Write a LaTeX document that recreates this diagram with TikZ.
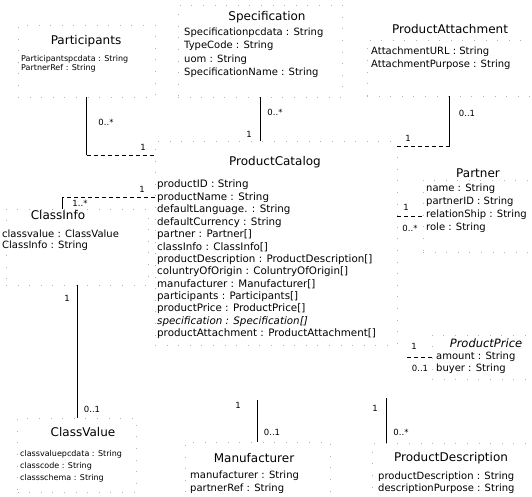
\documentclass[tikz,border=0pt]{standalone}
\usepackage{fontspec}
\setmainfont{DejaVu Sans}
\usetikzlibrary{positioning}
\tikzset{
  classbox/.style={draw=black!30, dash pattern=on 0.6pt off 11pt, rectangle, inner sep=0pt},
  classname/.style={font=\fontsize{12}{14}\selectfont, inner sep=0pt},
  attr/.style={font=\fontsize{10}{12}\selectfont, anchor=west, inner sep=0pt},
  catattr/.style={attr, font=\fontsize{10.3}{12}\selectfont},
  smallattr/.style={font=\fontsize{8}{9}\selectfont, anchor=west, inner sep=0pt},
  mult/.style={font=\fontsize{8.5}{10}\selectfont, inner sep=0pt},
  assoc/.style={line width=0.9pt},
  link/.style={line width=0.8pt, dash pattern=on 4pt off 3pt},
}

\begin{document}
\begin{tikzpicture}[x=1pt,y=-1pt]
\useasboundingbox (0,0) rectangle (532,497);
% class boxes
\node[classbox, minimum width=137pt, minimum height=72pt] (partBox) at (86.5,61) {};
\node[classbox, minimum width=164pt, minimum height=92pt] (specBox) at (260,51) {};
\node[classbox, minimum width=165pt, minimum height=56pt] (paBox) at (449.5,68) {};
\node[classbox, minimum width=242pt, minimum height=204pt] (catBox) at (276,243) {};
\node[classbox, minimum width=109pt, minimum height=72pt] (ptBox) at (477.5,216) {};
\node[classbox, minimum width=142pt, minimum height=76pt] (ciBox) at (77,247) {};
\node[classbox, minimum width=100pt, minimum height=44pt] (ppBox) at (482,357) {};
\node[classbox, minimum width=119pt, minimum height=74pt] (cvBox) at (77,455) {};
\node[classbox, minimum width=145pt, minimum height=55pt] (mfBox) at (257.5,469.5) {};
\node[classbox, minimum width=160pt, minimum height=54pt] (pdBox) at (452,470) {};

% Participants
\node[classname] (partTitle) at (86,41) {Participants};
\node[smallattr] (partAttr1) at (21,59) {Participantspcdata : String};
\node[smallattr] (partAttr2) at (21,68) {PartnerRef : String};

% Specification
\node[classname] (specTitle) at (267,17) {Specification};
\node[attr] (specAttr1) at (184,33) {Specificationpcdata : String};
\node[attr] (specAttr2) at (184,46) {TypeCode : String};
\node[attr] (specAttr3) at (184,60) {uom : String};
\node[attr] (specAttr4) at (184,73) {SpecificationName : String};

% ProductAttachment
\node[classname] (paTitle) at (450,29) {ProductAttachment};
\node[attr] (paAttr1) at (371,52) {AttachmentURL : String};
\node[attr] (paAttr2) at (371,65) {AttachmentPurpose : String};

% ProductCatalog
\node[classname] (catTitle) at (275,162) {ProductCatalog};
\foreach \txt [count=\i from 0] in {productID : String, productName : String,
    defaultLanguage. : String, defaultCurrency : String, partner : Partner[],
    classInfo : ClassInfo[], productDescription : ProductDescription[],
    coluntryOfOrigin : ColuntryOfOrigin[], manufacturer : Manufacturer[],
    participants : Participants[], productPrice : ProductPrice[],
    {\textit{specification : Specification[]}},
    productAttachment : ProductAttachment[]}
  \node[catattr] (catAttr\i) at (157,185+12.4*\i) {\txt};

% Partner
\node[classname] (ptTitle) at (478,173) {Partner};
\node[attr] (ptAttr1) at (426,189) {name : String};
\node[attr] (ptAttr2) at (426,202) {partnerID : String};
\node[attr] (ptAttr3) at (426,215) {relationShip : String};
\node[attr] (ptAttr4) at (426,228) {role : String};

% ClassInfo
\node[classname] (ciTitle) at (58,215) {ClassInfo};
\node[attr] (ciAttr1) at (2,234) {classvalue : ClassValue};
\node[attr] (ciAttr2) at (2,246) {ClassInfo : String};

% ProductPrice
\node[classname, font=\fontsize{11.5}{14}\selectfont\itshape] (ppTitle) at (486,343) {ProductPrice};
\node[attr] (ppAttr1) at (436,357) {amount : String};
\node[attr] (ppAttr2) at (436,369) {buyer : String};

% ClassValue
\node[classname] (cvTitle) at (83,432) {ClassValue};
\node[smallattr] (cvAttr1) at (20,454) {classvaluepcdata : String};
\node[smallattr] (cvAttr2) at (20,466) {classcode : String};
\node[smallattr] (cvAttr3) at (20,478) {classschema : String};

% Manufacturer
\node[classname] (mfTitle) at (254,458) {Manufacturer};
\node[attr] (mfAttr1) at (190,476) {manufacturer : String};
\node[attr] (mfAttr2) at (190,489) {partnerRef : String};

% ProductDescription
\node[classname] (pdTitle) at (451,458) {ProductDescription};
\node[attr] (pdAttr1) at (378,477) {productDescription : String};
\node[attr] (pdAttr2) at (378,489) {descriptionPurpose : String};

% associations
\coordinate (partCorner) at (86.5,155);
\draw[assoc] (partBox.south) -- (partCorner);
\draw[link] (partCorner) -- (partCorner -| catBox.west);
\draw[assoc] (specBox.south) -- (specBox.south |- catBox.north);
\coordinate (paCorner) at (449.5,146);
\draw[assoc] (paBox.south) -- (paCorner);
\draw[link] (paCorner) -- (paCorner -| catBox.east);
\coordinate (ciCorner) at (62,197);
\draw[link] (ciCorner -| catBox.west) -- (ciCorner);
\draw[assoc] (ciCorner) -- (ciCorner |- ciBox.north);
\draw[link] (catBox.east |- ptBox.west) -- (ptBox.west);
\coordinate (ppEnd) at (407,357);
\draw[link] (ppEnd) -- (ppBox.west);
\draw[assoc] (ciBox.south) -- (cvBox.north);
\coordinate (mfTop) at (257.5,400);
\draw[assoc] (mfTop) -- (mfBox.north);
\coordinate (pdTop) at (386,398);
\draw[assoc] (pdTop) -- (pdTop |- pdBox.north);

% multiplicities
\node[mult] (partMult1) at (106,122) {0..*};
\node[mult] (partMult2) at (143,147) {1};
\node[mult] (specMult1) at (275,112) {0..*};
\node[mult] (specMult2) at (249,134) {1};
\node[mult] (paMult1) at (467,113) {0..1};
\node[mult] (paMult2) at (408,138) {1};
\node[mult] (ciMult1) at (80,203) {1..*};
\node[mult] (ciMult2) at (142,189) {1};
\node[mult] (cvMult1) at (67,298) {1};
\node[mult] (cvMult2) at (92,409) {0..1};
\node[mult] (ptMult1) at (406,207) {1};
\node[mult] (ptMult2) at (410,228) {0..*};
\node[mult] (ppMult1) at (414,346) {1};
\node[mult] (ppMult2) at (420,368) {0..1};
\node[mult] (mfMult1) at (238,405) {1};
\node[mult] (mfMult2) at (272,432) {0..1};
\node[mult] (pdMult1) at (375,408) {1};
\node[mult] (pdMult2) at (401,432) {0..*};
\end{tikzpicture}
\end{document}
